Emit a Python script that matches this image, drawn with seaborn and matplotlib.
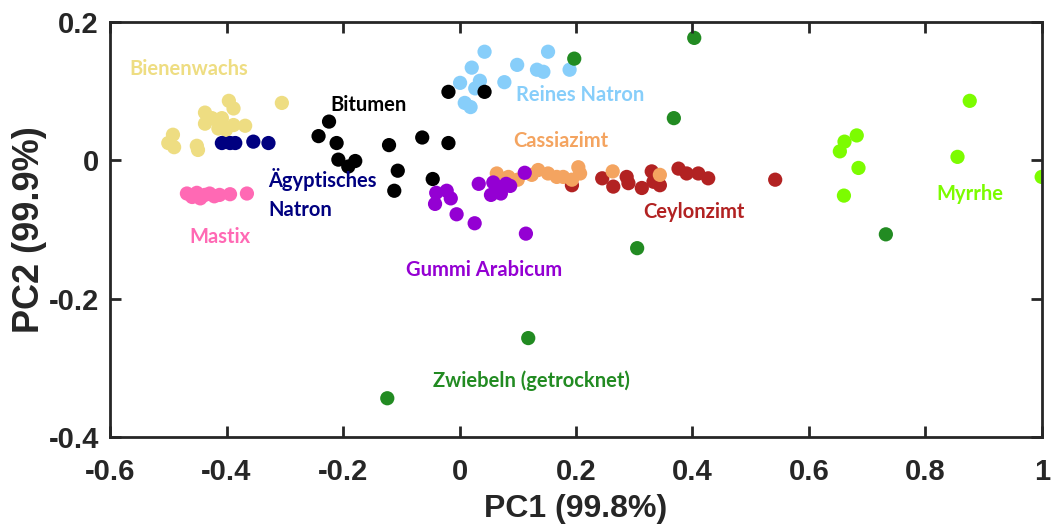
import numpy as np
import pandas as pd
import matplotlib
matplotlib.use("Agg")
import matplotlib.pyplot as plt
import seaborn as sns

# ---- data (PC1, PC2) per group ----
bienenwachs_x = [-0.396, -0.388, -0.437, -0.408, -0.437, -0.414, -0.388, -0.368, -0.492, -0.500, -0.490, -0.451, -0.449, -0.305, -0.425, -0.401]
bienenwachs_y = [0.086, 0.075, 0.069, 0.061, 0.053, 0.046, 0.051, 0.050, 0.037, 0.025, 0.019, 0.021, 0.015, 0.083, 0.061, 0.044]

natron_aeg_x = [-0.408, -0.394, -0.385, -0.354, -0.328]
natron_aeg_y = [0.025, 0.025, 0.025, 0.027, 0.025]

mastix_x = [-0.468, -0.459, -0.451, -0.445, -0.437, -0.429, -0.421, -0.412, -0.394, -0.365]
mastix_y = [-0.048, -0.053, -0.047, -0.055, -0.050, -0.048, -0.052, -0.050, -0.049, -0.048]

reines_x = [0.043, 0.152, 0.021, 0.099, 0.133, 0.144, 0.189, 0.001, 0.035, 0.027, 0.077, 0.009, 0.019]
reines_y = [0.157, 0.157, 0.134, 0.138, 0.131, 0.128, 0.131, 0.112, 0.115, 0.104, 0.113, 0.083, 0.077]

bitumen_x = [-0.224, -0.242, -0.211, -0.208, -0.179, -0.191, -0.121, -0.064, -0.019, -0.106, -0.112, -0.046, -0.019, 0.043]
bitumen_y = [0.056, 0.035, 0.025, 0.001, -0.001, -0.009, 0.022, 0.033, 0.025, -0.015, -0.044, -0.027, 0.099, 0.099]

ceylon_x = [0.193, 0.245, 0.264, 0.287, 0.290, 0.313, 0.330, 0.333, 0.344, 0.376, 0.390, 0.410, 0.427, 0.542]
ceylon_y = [-0.036, -0.026, -0.038, -0.024, -0.033, -0.040, -0.016, -0.031, -0.036, -0.012, -0.019, -0.019, -0.026, -0.028]

cassia_x = [0.064, 0.084, 0.100, 0.124, 0.135, 0.152, 0.167, 0.178, 0.193, 0.204, 0.207, 0.263, 0.344]
cassia_y = [-0.019, -0.024, -0.028, -0.021, -0.014, -0.019, -0.024, -0.024, -0.028, -0.010, -0.019, -0.016, -0.021]

gummi_x = [0.112, 0.033, 0.058, 0.080, 0.054, 0.071, -0.040, -0.022, -0.015, -0.042, -0.005, 0.026, 0.114, 0.066, 0.087]
gummi_y = [-0.018, -0.034, -0.032, -0.034, -0.050, -0.048, -0.047, -0.044, -0.055, -0.063, -0.078, -0.091, -0.106, -0.040, -0.037]

myrrhe_x = [0.876, 0.682, 0.661, 0.653, 0.685, 0.855, 0.660, 0.9995]
myrrhe_y = [0.086, 0.036, 0.027, 0.013, -0.011, 0.005, -0.051, -0.024]

zwiebeln_x = [0.197, 0.403, 0.368, 0.305, 0.118, -0.124, 0.732]
zwiebeln_y = [0.147, 0.177, 0.061, -0.127, -0.257, -0.344, -0.107]

groups = ["Bienenwachs", "Ägyptisches Natron", "Mastix", "Reines Natron", "Bitumen",
          "Ceylonzimt", "Cassiazimt", "Gummi Arabicum", "Myrrhe", "Zwiebeln (getrocknet)"]
xs = [bienenwachs_x, natron_aeg_x, mastix_x, reines_x, bitumen_x, ceylon_x, cassia_x, gummi_x, myrrhe_x, zwiebeln_x]
ys = [bienenwachs_y, natron_aeg_y, mastix_y, reines_y, bitumen_y, ceylon_y, cassia_y, gummi_y, myrrhe_y, zwiebeln_y]

colors = {
    "Bienenwachs": "#EEDD82",
    "Ägyptisches Natron": "#000080",
    "Mastix": "#FF69B4",
    "Reines Natron": "#87CEFA",
    "Bitumen": "#000000",
    "Ceylonzimt": "#B22222",
    "Cassiazimt": "#F4A460",
    "Gummi Arabicum": "#9400D3",
    "Myrrhe": "#7CFC00",
    "Zwiebeln (getrocknet)": "#228B22",
}

labels = {
    "Bienenwachs": (-0.465, 0.132, "Bienenwachs", "center"),
    "Bitumen": (-0.156, 0.080, "Bitumen", "center"),
    "Reines Natron": (0.207, 0.095, "Reines Natron", "center"),
    "Cassiazimt": (0.174, 0.028, "Cassiazimt", "center"),
    "Ägyptisches Natron": (-0.328, -0.049, "Ägyptisches\nNatron", "left"),
    "Mastix": (-0.411, -0.111, "Mastix", "center"),
    "Ceylonzimt": (0.403, -0.075, "Ceylonzimt", "center"),
    "Gummi Arabicum": (0.042, -0.158, "Gummi Arabicum", "center"),
    "Zwiebeln (getrocknet)": (0.123, -0.318, "Zwiebeln (getrocknet)", "center"),
    "Myrrhe": (0.876, -0.049, "Myrrhe", "center"),
}

frames = [pd.DataFrame({"PC1": x, "PC2": y, "group": g}) for g, x, y in zip(groups, xs, ys)]
df = pd.concat(frames, ignore_index=True)

sns.set_style("white")
edge = "#262626"
plt.rcParams.update({
    "xtick.bottom": True, "xtick.top": True, "ytick.left": True, "ytick.right": True,
    "xtick.direction": "in", "ytick.direction": "in",
    "xtick.major.size": 8, "ytick.major.size": 8,
    "xtick.major.width": 2.0, "ytick.major.width": 2.0,
    "xtick.color": edge, "ytick.color": edge,
    "axes.axisbelow": False,
})

fig = plt.figure(figsize=(10.51, 5.30), dpi=100)
ax = fig.add_axes([0.1047, 0.1755, 0.8867, 0.783])

sns.scatterplot(data=df, x="PC1", y="PC2", hue="group", hue_order=groups, palette=colors,
                s=105, linewidth=0, edgecolor="none", legend=False, ax=ax, alpha=1)

for g, (lx, ly, txt, ha) in labels.items():
    ax.text(lx, ly, txt, color=colors[g], fontsize=14.5, fontweight="bold",
            family=["Lato", "DejaVu Sans"], ha=ha, va="center", linespacing=1.55)

ax.set_xlim(-0.6, 1.0)
ax.set_ylim(-0.4, 0.2)
ax.set_xticks(np.arange(-0.6, 1.01, 0.2))
ax.set_yticks([-0.4, -0.2, 0, 0.2])
ax.set_xticklabels(["-0.6", "-0.4", "-0.2", "0", "0.2", "0.4", "0.6", "0.8", "1"])
ax.set_yticklabels(["-0.4", "-0.2", "0", "0.2"])

for sp in ax.spines.values():
    sp.set_visible(True)
    sp.set_linewidth(2.0)
    sp.set_color(edge)
ax.xaxis.set_ticks_position("both")
ax.yaxis.set_ticks_position("both")
ax.tick_params(which="major", direction="in", length=8, width=2.0, color=edge,
               top=True, right=True, bottom=True, left=True,
               labelbottom=True, labelleft=True, labeltop=False, labelright=False,
               labelsize=21)
ax.tick_params(axis="x", pad=15)
ax.tick_params(axis="y", pad=8)
for lab in ax.get_xticklabels() + ax.get_yticklabels():
    lab.set_fontweight("bold")
    lab.set_family("Liberation Sans")
    lab.set_color(edge)

ax.set_xlabel("PC1 (99.8%)", fontsize=23, fontweight="bold", family="Liberation Sans", color=edge, labelpad=6)
ax.set_ylabel("PC2 (99.9%)", fontsize=26, fontweight="bold", family="Liberation Sans", color=edge, labelpad=1)

fig.savefig("out.png", dpi=100)

# diagnostic: verify that inward ticks on the left/bottom were rendered
img = plt.imread("out.png")
row = int(round(530 - (0.1755 + 0.783 * 2 / 3) * 530))
left_strip = img[row - 1:row + 2, 114:121, :3].min()
col = int(round(0.1047 * 1051 + 0.8867 * 1051 * 0.2 / 1.6))
bot_strip = img[425:433, col - 1:col + 2, :3].min()
if left_strip > 0.5 or bot_strip > 0.5:
    raise RuntimeError(f"ticks missing: left={left_strip:.2f} bottom={bot_strip:.2f} row={row} col={col}")
